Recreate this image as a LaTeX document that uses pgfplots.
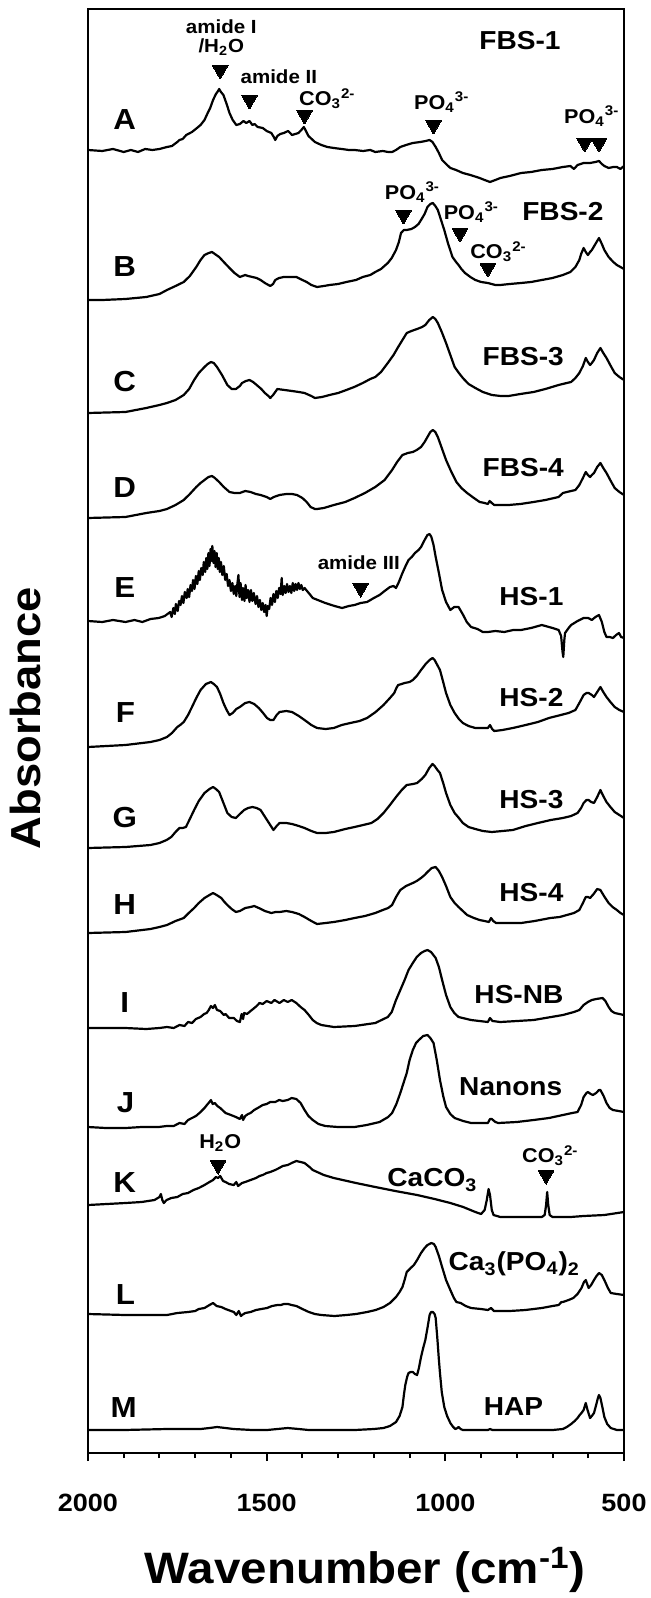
\documentclass[border=0pt]{standalone}
\usepackage{fontspec}
\setmainfont{Liberation Sans}
\usepackage{graphicx}
\usepackage{pgfplots}
\pgfplotsset{compat=1.18}

% bold Helvetica-like text, slightly wide as in the original figure
\newcommand\fs[1]{\fontsize{#1pt}{#1pt}\selectfont\bfseries}
\newcommand\sx[1]{\scalebox{1.08}[1]{#1}}
\newcommand\ion[3]{#1\textsubscript{#2}\textsuperscript{#3}}

\tikzset{
  letter/.style={font=\fs{14.5}, inner sep=0pt},
  sample/.style={font=\fs{13}, inner sep=0pt},
  note/.style={font=\fs{9.5}, inner sep=0pt},
  ion/.style={font=\fs{10}, inner sep=0pt},
}

\begin{document}
\begin{tikzpicture}
\useasboundingbox (0,0) rectangle (325.5pt,799pt);
\begin{axis}[
  at={(44pt,72.5pt)}, anchor=south west,
  width=268pt, height=722pt, scale only axis,
  xmin=500, xmax=2000, x dir=reverse,
  ymin=9, ymax=1453, y dir=reverse,
  axis line style={line width=1.25pt},
  ytick=\empty,
  xtick={500,1000,1500,2000},
  xticklabels={\sx{500},\sx{1000},\sx{1500},\sx{2000}},
  minor xtick={600,700,800,900,1100,1200,1300,1400,1600,1700,1800,1900},
  xtick pos=bottom, tick align=outside,
  major tick length=4pt, minor tick length=2.5pt,
  tick style={line width=1pt, black},
  xticklabel style={font=\fs{12.5}, yshift=-12.8pt},
  clip=false,
  cycle list={{black, solid, mark=none}},
  every axis plot/.append style={line width=1.1pt, line join=round},
]

% A  FBS-1
\addplot coordinates {(2000,150)(1960,151)(1930,149)(1900,152)(1880,150)(1860,152)(1840,149)(1820,150)(1800,149)(1779,147)(1765,146)(1750,142)(1744,140)(1735,139)(1725,135)(1709,132)(1695,128)(1685,125)(1674,120)(1665,113)(1658,108)(1650,100)(1642,94)(1636,91)(1633,89)(1628,92)(1621,95)(1612,104)(1604,113)(1595,120)(1585,125)(1575,124)(1565,121)(1557,123)(1548,121)(1540,125)(1534,124)(1525,127)(1511,128)(1500,131)(1487,133)(1480,137)(1476,140)(1470,136)(1462,134)(1452,133)(1440,131)(1429,135)(1420,134)(1411,133)(1403,130)(1396,127)(1390,131)(1383,136)(1377,138)(1365,142)(1347,145)(1330,147)(1312,148)(1290,149)(1270,150)(1254,150)(1230,151)(1210,150)(1196,152)(1175,151)(1160,152)(1149,152)(1138,150)(1126,147)(1110,145)(1091,143)(1070,142)(1055,141)(1044,140)(1036,142)(1027,147)(1018,153)(1009,160)(998,164)(986,168)(970,170)(951,173)(930,175)(904,178)(890,180)(875,182)(860,180)(846,178)(820,176)(788,173)(760,172)(730,170)(700,169)(671,167)(650,166)(640,169)(630,165)(613,163)(595,163)(580,162)(570,161)(562,164)(555,166)(543,168)(530,167)(520,167)(510,169)(500,166)};

% B  FBS-2
\addplot coordinates {(2000,300)(1960,300)(1895,299)(1837,297)(1800,294)(1779,290)(1755,286)(1732,282)(1715,276)(1697,267)(1685,260)(1674,255)(1662,253)(1653,252)(1645,254)(1633,257)(1620,262)(1604,268)(1590,273)(1575,277)(1560,275)(1552,276)(1540,277)(1528,278)(1517,280)(1505,283)(1490,286)(1482,284)(1476,280)(1465,278)(1452,277)(1435,277)(1417,277)(1400,280)(1388,282)(1375,285)(1359,287)(1340,286)(1324,285)(1300,284)(1277,282)(1250,280)(1231,277)(1210,275)(1196,272)(1180,269)(1161,263)(1150,258)(1138,250)(1130,242)(1124,233)(1116,230)(1108,230)(1095,229)(1085,227)(1075,224)(1068,220)(1058,214)(1050,207)(1042,204)(1035,203)(1028,206)(1021,210)(1012,220)(1003,230)(992,244)(980,257)(970,262)(963,265)(955,269)(945,273)(930,277)(916,280)(900,282)(881,283)(860,285)(846,285)(820,284)(788,283)(760,282)(730,280)(700,278)(671,275)(650,272)(636,267)(625,260)(620,254)(613,248)(607,252)(601,255)(595,252)(590,250)(580,244)(570,238)(562,244)(555,250)(543,257)(530,262)(520,265)(510,267)(500,269)};

% C  FBS-3
\addplot coordinates {(2000,413)(1895,412)(1837,408)(1800,405)(1779,403)(1755,400)(1732,395)(1717,389)(1703,380)(1690,373)(1674,367)(1665,364)(1656,362)(1648,363)(1639,367)(1625,375)(1610,385)(1598,389)(1586,389)(1575,386)(1569,383)(1558,381)(1548,380)(1538,382)(1528,385)(1515,389)(1505,393)(1495,396)(1490,398)(1482,395)(1470,389)(1450,390)(1429,391)(1410,392)(1394,393)(1375,396)(1365,398)(1345,397)(1324,395)(1300,393)(1277,390)(1255,387)(1231,383)(1210,379)(1196,377)(1180,372)(1161,363)(1145,355)(1132,347)(1120,340)(1108,333)(1095,331)(1079,329)(1065,327)(1056,325)(1045,320)(1035,317)(1028,319)(1021,323)(1010,332)(998,343)(985,356)(974,367)(962,373)(951,378)(935,384)(916,388)(895,392)(870,395)(845,396)(823,396)(790,394)(753,392)(720,389)(683,385)(660,383)(648,382)(636,378)(625,373)(615,366)(607,358)(601,362)(595,365)(590,363)(584,360)(575,353)(566,348)(558,353)(549,358)(537,366)(526,373)(513,377)(500,380)};

% D  FBS-4
\addplot coordinates {(2000,518)(1895,517)(1837,513)(1800,511)(1779,509)(1755,505)(1732,500)(1715,494)(1697,487)(1685,483)(1674,480)(1663,477)(1653,476)(1645,478)(1633,482)(1620,487)(1604,492)(1590,493)(1575,493)(1560,491)(1545,492)(1530,494)(1517,495)(1500,497)(1490,499)(1480,497)(1464,495)(1445,494)(1429,494)(1415,495)(1400,498)(1388,502)(1377,507)(1365,509)(1359,509)(1340,508)(1312,505)(1280,502)(1254,498)(1225,493)(1196,487)(1170,480)(1149,470)(1135,462)(1120,455)(1105,453)(1091,452)(1080,450)(1068,447)(1058,442)(1050,437)(1042,432)(1035,430)(1028,432)(1021,437)(1010,448)(998,460)(983,472)(969,482)(955,488)(939,493)(920,498)(904,502)(890,503)(881,504)(876,501)(870,503)(863,505)(823,505)(790,504)(753,502)(720,500)(683,497)(671,493)(660,492)(636,490)(625,485)(615,478)(607,472)(601,475)(595,477)(590,475)(584,473)(575,467)(566,463)(558,468)(549,473)(537,481)(526,488)(513,492)(500,495)};

% E  HS-1
\addplot coordinates {(2000,621)(1960,622)(1930,620)(1895,622)(1870,620)(1848,622)(1825,619)(1802,618)(1785,616)(1770,612)(1766,617)(1761,608)(1757,614)(1754,604)(1749,611)(1745,601)(1741,605)(1737,596)(1733,603)(1729,592)(1724,598)(1721,589)(1717,597)(1713,585)(1709,591)(1706,580)(1702,589)(1698,576)(1694,584)(1690,571)(1687,580)(1683,568)(1679,575)(1676,562)(1672,572)(1669,558)(1666,569)(1663,553)(1660,566)(1657,549)(1655,561)(1652,546)(1649,563)(1646,551)(1643,567)(1640,553)(1637,569)(1634,558)(1631,572)(1628,562)(1624,575)(1620,566)(1616,580)(1612,574)(1608,586)(1604,580)(1600,591)(1596,583)(1592,594)(1588,586)(1585,596)(1582,584)(1579,575)(1576,597)(1573,583)(1569,600)(1566,588)(1562,601)(1559,585)(1556,598)(1552,590)(1548,602)(1544,590)(1540,601)(1536,593)(1531,604)(1527,596)(1523,607)(1519,600)(1515,610)(1511,603)(1507,612)(1503,605)(1500,616)(1497,606)(1493,609)(1489,598)(1485,605)(1481,594)(1477,602)(1473,591)(1469,598)(1465,588)(1461,594)(1458,578)(1455,595)(1451,586)(1447,593)(1443,584)(1439,592)(1435,586)(1431,593)(1427,583)(1423,591)(1419,584)(1415,590)(1411,583)(1407,589)(1403,585)(1399,590)(1394,588)(1380,594)(1371,598)(1350,601)(1336,603)(1310,606)(1289,608)(1270,606)(1254,605)(1237,603)(1219,602)(1200,598)(1184,595)(1170,591)(1155,587)(1145,586)(1138,588)(1130,582)(1120,573)(1110,565)(1103,560)(1094,557)(1085,553)(1075,550)(1068,547)(1058,540)(1050,535)(1044,534)(1039,537)(1033,545)(1027,557)(1018,573)(1009,590)(998,602)(986,610)(975,607)(963,607)(950,615)(940,622)(928,627)(910,629)(895,632)(881,632)(860,631)(835,632)(810,630)(788,630)(760,628)(730,625)(700,628)(683,630)(676,636)(672,652)(670,657)(667,640)(665,633)(655,628)(648,625)(630,621)(613,618)(600,618)(590,620)(580,617)(570,615)(562,622)(555,632)(549,637)(540,637)(531,638)(522,635)(514,633)(508,637)(500,638)};

% F  HS-2
\addplot coordinates {(2000,747)(1895,745)(1825,742)(1800,740)(1779,737)(1765,733)(1755,729)(1750,727)(1742,725)(1732,722)(1720,715)(1709,707)(1697,698)(1685,690)(1670,684)(1656,682)(1648,684)(1639,687)(1630,694)(1621,703)(1612,710)(1604,715)(1595,713)(1585,709)(1575,707)(1560,703)(1548,702)(1535,704)(1522,708)(1510,713)(1499,718)(1490,720)(1481,720)(1472,715)(1464,712)(1445,711)(1429,712)(1410,716)(1394,720)(1375,725)(1359,728)(1335,729)(1312,728)(1290,725)(1266,723)(1240,721)(1219,718)(1195,712)(1173,705)(1155,698)(1143,693)(1137,688)(1132,685)(1122,684)(1114,683)(1100,682)(1091,680)(1080,676)(1068,670)(1055,664)(1044,660)(1036,658)(1030,660)(1024,664)(1015,670)(1006,682)(998,693)(986,705)(974,713)(962,719)(951,723)(935,726)(916,728)(895,728)(881,728)(875,725)(869,729)(863,731)(840,730)(811,728)(775,725)(741,722)(710,718)(677,715)(655,713)(636,710)(625,703)(613,695)(605,693)(599,693)(590,695)(584,697)(575,692)(566,687)(558,692)(549,697)(538,702)(526,707)(513,710)(500,712)};

% G  HS-3
\addplot coordinates {(2000,848)(1895,847)(1825,845)(1800,843)(1780,840)(1767,837)(1755,832)(1744,828)(1735,828)(1726,827)(1715,819)(1703,810)(1690,801)(1674,793)(1660,789)(1650,787)(1642,789)(1633,792)(1622,802)(1610,813)(1598,817)(1586,818)(1575,814)(1563,810)(1552,808)(1540,807)(1528,808)(1517,810)(1508,815)(1499,820)(1490,825)(1481,830)(1472,826)(1464,823)(1445,823)(1429,824)(1410,826)(1394,828)(1375,831)(1359,833)(1335,833)(1312,832)(1280,829)(1254,827)(1230,825)(1207,823)(1190,819)(1173,813)(1155,805)(1138,797)(1122,790)(1108,785)(1090,784)(1079,783)(1066,779)(1056,775)(1045,768)(1036,764)(1030,766)(1022,770)(1015,773)(1006,783)(998,793)(986,805)(974,813)(962,818)(951,823)(935,827)(916,829)(895,831)(870,832)(840,831)(811,830)(775,826)(741,823)(705,820)(671,818)(648,816)(630,813)(620,808)(613,803)(605,800)(599,800)(592,802)(584,803)(575,797)(566,790)(558,796)(549,802)(538,807)(526,812)(513,815)(500,818)};

% H  HS-4
\addplot coordinates {(2000,933)(1895,932)(1825,929)(1800,927)(1779,925)(1755,921)(1732,918)(1718,913)(1703,908)(1690,903)(1674,898)(1660,895)(1650,893)(1640,895)(1627,898)(1618,902)(1610,905)(1598,909)(1586,912)(1575,911)(1560,908)(1545,907)(1535,906)(1522,908)(1505,911)(1487,913)(1475,912)(1464,912)(1445,911)(1429,912)(1410,914)(1394,917)(1375,921)(1359,924)(1335,923)(1312,922)(1280,920)(1254,918)(1225,916)(1196,913)(1175,910)(1160,908)(1149,905)(1138,897)(1126,890)(1110,886)(1091,883)(1080,881)(1068,878)(1058,875)(1050,872)(1038,868)(1027,867)(1018,871)(1009,877)(998,886)(986,897)(974,903)(963,907)(951,911)(939,915)(920,918)(904,920)(890,921)(878,922)(872,918)(866,921)(858,923)(820,923)(788,923)(750,921)(706,918)(680,917)(660,915)(640,913)(625,910)(615,903)(607,897)(601,897)(595,898)(585,894)(575,889)(566,890)(556,896)(543,903)(532,907)(520,910)(510,913)(500,915)};

% I  HS-NB
\addplot coordinates {(2000,1028)(1895,1028)(1837,1029)(1800,1028)(1779,1027)(1760,1028)(1744,1025)(1730,1026)(1720,1022)(1709,1023)(1698,1019)(1685,1017)(1675,1014)(1668,1013)(1662,1010)(1656,1006)(1650,1008)(1645,1005)(1639,1010)(1630,1011)(1620,1015)(1615,1014)(1605,1018)(1592,1018)(1583,1021)(1575,1022)(1570,1014)(1566,1019)(1563,1013)(1555,1014)(1545,1011)(1538,1009)(1528,1006)(1520,1003)(1511,1004)(1500,1001)(1487,1003)(1478,1000)(1464,1003)(1452,1000)(1441,1002)(1430,1000)(1417,1003)(1405,1007)(1394,1010)(1382,1015)(1371,1020)(1360,1023)(1347,1025)(1312,1027)(1254,1026)(1196,1023)(1161,1017)(1150,1012)(1138,1000)(1126,990)(1114,980)(1103,970)(1091,963)(1080,957)(1068,953)(1058,951)(1050,950)(1040,952)(1027,958)(1018,967)(1009,980)(998,995)(986,1007)(975,1013)(963,1017)(928,1020)(881,1022)(875,1018)(868,1021)(846,1022)(753,1020)(671,1015)(640,1012)(625,1010)(613,1005)(601,1002)(590,1000)(578,999)(560,998)(552,1001)(543,1007)(535,1011)(526,1013)(500,1015)};

% J  Nanons
\addplot coordinates {(2000,1127)(1950,1128)(1895,1128)(1850,1127)(1802,1127)(1780,1126)(1760,1126)(1744,1123)(1730,1124)(1720,1120)(1709,1118)(1698,1116)(1685,1112)(1674,1108)(1665,1104)(1660,1102)(1656,1100)(1651,1104)(1645,1103)(1638,1106)(1630,1108)(1615,1113)(1600,1115)(1586,1117)(1575,1119)(1569,1115)(1566,1120)(1560,1116)(1552,1114)(1545,1113)(1535,1110)(1525,1108)(1511,1105)(1500,1104)(1490,1102)(1476,1102)(1465,1100)(1455,1101)(1441,1100)(1430,1098)(1417,1099)(1405,1103)(1394,1110)(1383,1116)(1371,1120)(1355,1124)(1336,1126)(1300,1127)(1254,1127)(1220,1125)(1184,1122)(1160,1117)(1149,1113)(1137,1104)(1126,1093)(1117,1083)(1108,1073)(1100,1060)(1091,1050)(1082,1043)(1074,1040)(1062,1036)(1050,1035)(1042,1038)(1033,1043)(1024,1060)(1015,1080)(1006,1096)(998,1107)(986,1114)(974,1118)(950,1121)(928,1123)(881,1123)(875,1119)(870,1119)(860,1122)(852,1123)(800,1122)(753,1120)(710,1118)(671,1115)(645,1113)(630,1112)(620,1105)(613,1097)(605,1093)(601,1092)(593,1094)(587,1095)(578,1093)(570,1090)(566,1090)(557,1096)(549,1103)(540,1108)(531,1110)(515,1111)(500,1112)};

% K  CaCO3
\addplot coordinates {(2000,1205)(1895,1203)(1850,1202)(1814,1200)(1800,1197)(1796,1194)(1792,1200)(1788,1203)(1780,1200)(1767,1198)(1750,1197)(1735,1194)(1720,1193)(1705,1190)(1690,1188)(1674,1185)(1660,1182)(1650,1180)(1642,1177)(1636,1178)(1630,1176)(1622,1181)(1615,1182)(1605,1184)(1592,1185)(1585,1182)(1580,1186)(1569,1183)(1560,1182)(1545,1180)(1530,1178)(1520,1176)(1511,1175)(1500,1173)(1490,1172)(1476,1170)(1465,1168)(1455,1166)(1441,1165)(1430,1163)(1417,1161)(1405,1162)(1394,1163)(1380,1167)(1371,1170)(1340,1175)(1312,1178)(1250,1183)(1196,1187)(1140,1191)(1079,1195)(1030,1199)(986,1203)(950,1207)(916,1212)(900,1214)(890,1210)(884,1200)(879,1189)(875,1195)(870,1210)(865,1215)(846,1217)(788,1217)(730,1217)(722,1215)(718,1205)(715,1192)(712,1205)(708,1215)(700,1217)(650,1217)(613,1216)(555,1215)(500,1212)};

% L  Ca3(PO4)2
\addplot coordinates {(2000,1314)(1895,1315)(1850,1315)(1779,1315)(1750,1313)(1720,1312)(1700,1311)(1690,1309)(1674,1308)(1660,1305)(1650,1303)(1640,1306)(1627,1307)(1615,1309)(1600,1311)(1592,1312)(1585,1315)(1578,1311)(1572,1316)(1569,1315)(1560,1313)(1545,1312)(1530,1310)(1515,1309)(1499,1308)(1485,1306)(1470,1305)(1460,1305)(1452,1304)(1440,1304)(1430,1305)(1417,1306)(1400,1309)(1382,1312)(1365,1314)(1347,1315)(1310,1316)(1277,1315)(1250,1314)(1219,1312)(1195,1310)(1173,1307)(1155,1303)(1138,1297)(1128,1292)(1120,1287)(1114,1280)(1108,1272)(1097,1268)(1088,1265)(1079,1260)(1068,1253)(1058,1248)(1050,1245)(1039,1243)(1032,1244)(1027,1247)(1018,1256)(1009,1267)(998,1280)(986,1290)(976,1298)(969,1302)(957,1303)(943,1306)(928,1308)(900,1309)(881,1310)(872,1308)(864,1311)(858,1311)(820,1311)(776,1310)(730,1308)(700,1306)(683,1305)(675,1302)(671,1302)(655,1300)(642,1298)(630,1294)(619,1288)(612,1282)(607,1280)(603,1284)(599,1288)(592,1285)(584,1280)(577,1276)(570,1273)(562,1275)(555,1280)(545,1288)(537,1293)(520,1294)(500,1295)};

% M  HAP
\addplot coordinates {(2000,1430)(1900,1430)(1779,1429)(1685,1429)(1660,1428)(1639,1427)(1615,1428)(1592,1429)(1540,1430)(1499,1430)(1470,1429)(1441,1428)(1410,1429)(1382,1430)(1300,1430)(1254,1430)(1200,1429)(1173,1428)(1155,1426)(1138,1422)(1128,1416)(1120,1407)(1116,1395)(1112,1385)(1107,1377)(1103,1373)(1097,1372)(1091,1372)(1085,1374)(1079,1375)(1074,1368)(1068,1357)(1062,1348)(1056,1340)(1050,1328)(1044,1315)(1040,1312)(1035,1312)(1030,1314)(1027,1318)(1022,1340)(1018,1360)(1015,1373)(1010,1392)(1003,1407)(995,1416)(986,1423)(978,1427)(972,1429)(966,1428)(963,1427)(957,1429)(951,1430)(881,1430)(875,1429)(868,1430)(776,1430)(700,1430)(671,1429)(660,1427)(648,1424)(638,1421)(630,1418)(624,1415)(619,1413)(613,1410)(607,1403)(602,1410)(595,1418)(590,1416)(584,1413)(578,1405)(573,1398)(570,1395)(566,1398)(560,1408)(555,1417)(547,1424)(537,1428)(520,1430)(500,1430)};

% band markers
\addplot[only marks, mark=triangle*, mark size=4.5pt,
  mark options={rotate=180, fill=black, draw=black, line width=0pt}]
  coordinates {(1630,70)(1548,100)(1394,115)(1033,125)(610,143)(570,143)
    (1117,215)(959,233)(881,268)(1237,588)(1636,1165)(718,1175)};

% trace letters
\node[letter] at (1897,120) {\sx{A}};
\node[letter] at (1897,267) {\sx{B}};
\node[letter] at (1897,382) {\sx{C}};
\node[letter] at (1897,488) {\sx{D}};
\node[letter] at (1897,588) {\sx{E}};
\node[letter] at (1895,713) {\sx{F}};
\node[letter] at (1897,818) {\sx{G}};
\node[letter] at (1897,905) {\sx{H}};
\node[letter] at (1897,1003) {\sx{I}};
\node[letter] at (1895,1103) {\sx{J}};
\node[letter] at (1897,1183) {\sx{K}};
\node[letter] at (1895,1295) {\sx{L}};
\node[letter] at (1900,1408) {\sx{M}};

% sample names
\node[sample] at (791,41) {\sx{FBS-1}};
\node[sample] at (671,212) {\sx{FBS-2}};
\node[sample] at (782,357) {\sx{FBS-3}};
\node[sample] at (782,468) {\sx{FBS-4}};
\node[sample] at (759,597) {\sx{HS-1}};
\node[sample] at (759,698) {\sx{HS-2}};
\node[sample] at (759,800) {\sx{HS-3}};
\node[sample] at (759,893) {\sx{HS-4}};
\node[sample] at (794,995) {\sx{HS-NB}};
\node[sample] at (817,1087) {\sx{Nanons}};
\node[sample] at (1036,1180) {\sx{CaCO\textsubscript{3}}};
\node[sample] at (807,1264) {\sx{Ca\textsubscript{3}(PO\textsubscript{4})\textsubscript{2}}};
\node[sample] at (809,1407) {\sx{HAP}};

% band annotations
\node[note] at (1627,27) {\sx{amide I}};
\node[note] at (1627,47) {\sx{/H\textsubscript{2}O}};
\node[note] at (1466,77) {\sx{amide II}};
\node[ion] at (1330,99) {\sx{\ion{CO}{3}{2-}}};
\node[ion] at (1010,102) {\sx{\ion{PO}{4}{3-}}};
\node[ion] at (590,116) {\sx{\ion{PO}{4}{3-}}};
\node[ion] at (1092,192) {\sx{\ion{PO}{4}{3-}}};
\node[ion] at (927,212) {\sx{\ion{PO}{4}{3-}}};
\node[ion] at (851,252) {\sx{\ion{CO}{3}{2-}}};
\node[note] at (1242,563) {\sx{amide III}};
\node[ion] at (1630,1143) {\sx{H\textsubscript{2}O}};
\node[ion] at (706,1156) {\sx{\ion{CO}{3}{2-}}};

% axis titles
\node[rotate=90, font=\fs{21}] at (rel axis cs:-0.1175,0.509) {\sx{Absorbance}};
\node[font=\fs{22}] at (rel axis cs:0.517,-0.081) {\sx{Wavenumber (cm\textsuperscript{-1})}};
\end{axis}
\end{tikzpicture}
\end{document}
